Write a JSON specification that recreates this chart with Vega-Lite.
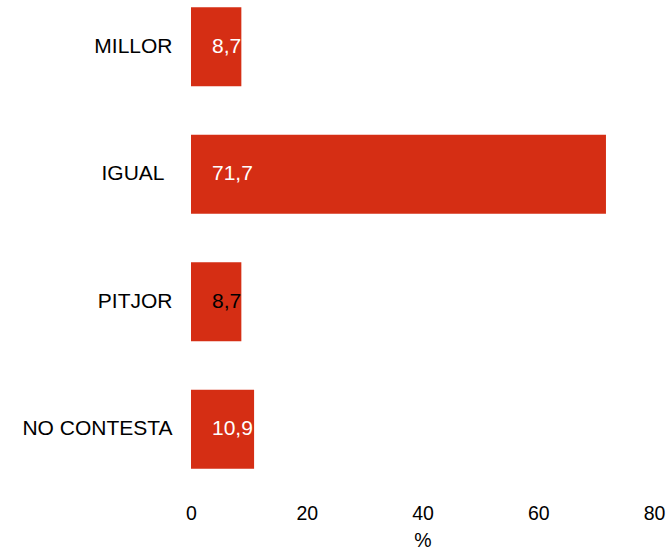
{
  "$schema": "https://vega.github.io/schema/vega-lite/v6.json",
  "width": 463,
  "height": 474,
  "autosize": {"type": "none"},
  "padding": {"left": 191, "top": 1, "right": 16, "bottom": 77},
  "background": "white",
  "config": {
    "view": {"stroke": null},
    "font": "Liberation Sans",
    "locale": {"number": {"decimal": ",", "thousands": ".", "grouping": [3], "currency": ["", " €"]}}
  },
  "data": {
    "values": [
      {"categoria": "MILLOR", "pct": 8.7},
      {"categoria": "IGUAL", "pct": 71.7},
      {"categoria": "PITJOR", "pct": 8.7},
      {"categoria": "NO CONTESTA", "pct": 10.9}
    ]
  },
  "encoding": {
    "y": {
      "field": "categoria",
      "type": "nominal",
      "sort": null,
      "scale": {"paddingInner": 0.38, "paddingOuter": 0.05},
      "axis": {
        "title": null,
        "domain": false,
        "ticks": false,
        "labelPadding": {"condition": {"test": "datum.value === 'IGUAL'", "value": 27}, "value": 19},
        "labelFontSize": 21,
        "labelColor": "black"
      }
    }
  },
  "layer": [
    {
      "mark": {"type": "bar", "color": "#d52e14"},
      "encoding": {
        "x": {
          "field": "pct",
          "type": "quantitative",
          "scale": {"domain": [0, 80]},
          "axis": {
            "title": "%",
            "values": [0, 20, 40, 60, 80],
            "domain": false,
            "ticks": false,
            "grid": false,
            "labelPadding": 29,
            "labelFontSize": 19.5,
            "labelColor": "black",
            "labelFlush": false,
            "titleFontSize": 19.5,
            "titleFontWeight": "normal",
            "titleColor": "black",
            "titlePadding": 9
          }
        }
      }
    },
    {
      "mark": {"type": "text", "align": "left", "baseline": "middle", "dx": 21, "fontSize": 21},
      "encoding": {
        "x": {"datum": 0, "type": "quantitative"},
        "text": {"field": "pct", "type": "quantitative", "format": ".1f"},
        "color": {
          "condition": {"test": "datum.categoria === 'PITJOR'", "value": "black"},
          "value": "white"
        }
      }
    }
  ]
}
